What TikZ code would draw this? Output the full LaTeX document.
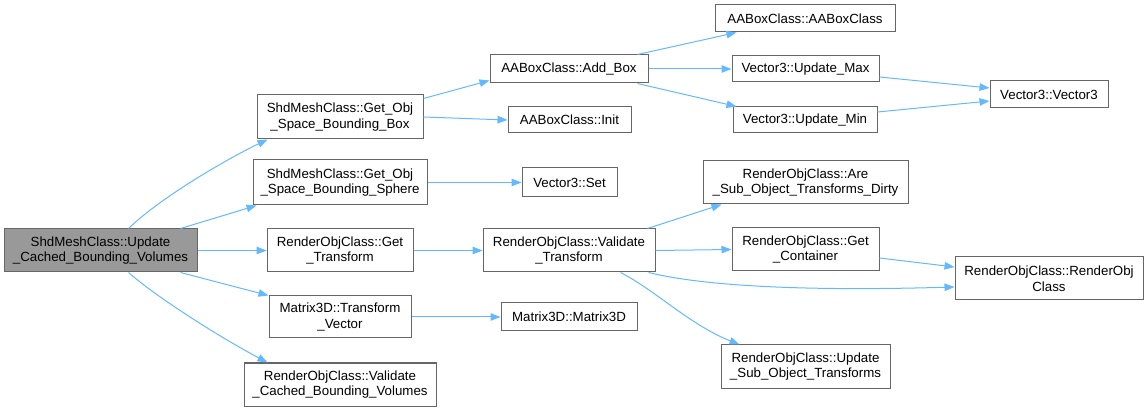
\documentclass[tikz,border=0pt]{standalone}
\usepackage{fontspec}
\setmainfont{Liberation Sans}
\usetikzlibrary{arrows.meta}
\definecolor{edgeblue}{HTML}{63B8FF}
\definecolor{boxline}{HTML}{666666}
\definecolor{rootfill}{HTML}{999999}
\tikzset{
  box/.style={draw=boxline, fill=white, line width=1pt, inner sep=0pt, align=center,
    font=\fontsize{13.3}{15.7}\selectfont},
  rootbox/.style={box, fill=rootfill},
  edge/.style={draw=edgeblue, line width=1pt, -{Triangle[length=10pt,width=7.5pt]}}
}
\begin{document}
\begin{tikzpicture}[x=1pt,y=1pt]
\useasboundingbox (0,0) rectangle (1148,-411);
% column 0
\node[rootbox, minimum width=193, minimum height=43] (root) at (100.5,-250.5) {ShdMeshClass::Update\\\_Cached\_Bounding\_Volumes};
% column 1
\node[box, minimum width=166, minimum height=44] (gobb) at (340,-117) {ShdMeshClass::Get\_Obj\\\_Space\_Bounding\_Box};
\node[box, minimum width=174, minimum height=45] (gobs) at (340,-182.5) {ShdMeshClass::Get\_Obj\\\_Space\_Bounding\_Sphere};
\node[box, minimum width=146, minimum height=43] (gt) at (340,-250.5) {RenderObjClass::Get\\\_Transform};
\node[box, minimum width=142, minimum height=42] (tv) at (340,-317) {Matrix3D::Transform\\\_Vector};
\node[box, minimum width=192, minimum height=43] (vcbv) at (340,-384.5) {RenderObjClass::Validate\\\_Cached\_Bounding\_Volumes};
% column 2
\node[box, minimum width=158, minimum height=28] (addbox) at (569,-69) {AABoxClass::Add\_Box};
\node[box, minimum width=123, minimum height=26] (init) at (569.5,-120) {AABoxClass::Init};
\node[box, minimum width=95, minimum height=29] (set) at (569.5,-182.5) {Vector3::Set};
\node[box, minimum width=172, minimum height=43] (vt) at (569,-250.5) {RenderObjClass::Validate\\\_Transform};
\node[box, minimum width=136, minimum height=28] (m3d) at (569,-317) {Matrix3D::Matrix3D};
% column 3
\node[box, minimum width=180, minimum height=27] (aabox) at (805,-18.5) {AABoxClass::AABoxClass};
\node[box, minimum width=147, minimum height=26] (umax) at (805.5,-69) {Vector3::Update\_Max};
\node[box, minimum width=144, minimum height=26] (umin) at (805,-120) {Vector3::Update\_Min};
\node[box, minimum width=205, minimum height=43] (are) at (805.5,-182.5) {RenderObjClass::Are\\\_Sub\_Object\_Transforms\_Dirty};
\node[box, minimum width=147, minimum height=43] (gc) at (805.5,-249.5) {RenderObjClass::Get\\\_Container};
\node[box, minimum width=169, minimum height=43] (upd) at (805.5,-366.5) {RenderObjClass::Update\\\_Sub\_Object\_Transforms};
% column 4
\node[box, minimum width=118, minimum height=27] (v3) at (1049,-94.5) {Vector3::Vector3};
\node[box, minimum width=188, minimum height=43] (roc) at (1049,-278.5) {RenderObjClass::RenderObj\\Class};
% edges from root
\draw[edge] ([xshift=-69]root.north east) .. controls (160,-198) and (225,-160) .. ([xshift=11]gobb.south west);
\draw[edge] ([xshift=-17]root.north east) -- ([xshift=4]gobs.south west);
\draw[edge] (root.east) -- (gt.west);
\draw[edge] ([xshift=-17]root.south east) -- (tv.north west);
\draw[edge] ([xshift=-69]root.south east) .. controls (160,-300) and (225,-340) .. ([xshift=24]vcbv.north west);
% column 1 -> 2
\draw[edge] ([yshift=-4]gobb.north east) -- ([yshift=3]addbox.south west);
\draw[edge] (gobb.east) -- (init.west);
\draw[edge] (gobs.east) -- (set.west);
\draw[edge] (gt.east) -- (vt.west);
\draw[edge] (tv.east) -- (m3d.west);
% column 2 -> 3
\draw[edge] ([xshift=-11]addbox.north east) -- ([xshift=22]aabox.south west);
\draw[edge] (addbox.east) -- (umax.west);
\draw[edge] ([xshift=-11]addbox.south east) -- ([xshift=4]umin.north west);
\draw[edge] ([xshift=-8]vt.north east) -- ([xshift=19]are.south west);
\draw[edge] (vt.east) -- (gc.west);
\draw[edge] ([xshift=-7]vt.south east) .. controls (720,-290) and (850,-290) .. ([yshift=-8.5]roc.west);
\draw[edge] ([xshift=-35]vt.south east) .. controls (655,-290) and (690,-325) .. ([xshift=19]upd.north west);
% column 3 -> 4
\draw[edge] ([yshift=-8]umax.east) -- ([yshift=6.5]v3.west);
\draw[edge] ([yshift=8]umin.east) -- ([yshift=-6.5]v3.west);
\draw[edge] ([yshift=-8.5]gc.east) -- ([yshift=11.5]roc.west);
\end{tikzpicture}
\end{document}
